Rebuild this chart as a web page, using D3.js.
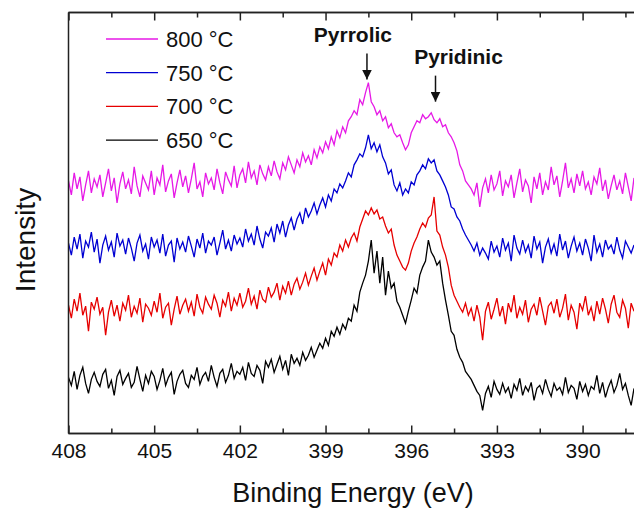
<!DOCTYPE html>
<html>
<head>
<meta charset="utf-8">
<script src="https://cdn.jsdelivr.net/npm/d3@7"></script>
<style>
  body { margin: 0; background: #fff; }
  svg { display: block; font-family: "Liberation Sans", Arial, sans-serif; }
</style>
</head>
<body>
<svg id="chart" width="634" height="514"></svg>
<script>
'use strict';

// binding energy grid: 408.0 eV down to 388.2 eV in 0.1 eV steps
var energyStart = 408.0;
var energyStep = 0.1;

// intensities (a.u.), one value per 0.1 eV
var series650 = [
    56, 48, 62, 44, 58, 66, 50, 40, 54, 61,
    52, 47, 59, 64, 45, 53, 38, 57, 63, 49,
    55, 60, 46, 51, 67, 54, 42, 58, 50, 62,
    57, 44, 53, 65, 48, 56, 61, 39, 52, 59,
    63, 50, 46, 58, 54, 66, 49, 57, 61, 52,
    68, 56, 47, 60, 64, 51, 58, 70, 55, 62,
    59, 66, 53, 71, 60, 57, 68, 63, 50, 72,
    66, 74, 61, 69, 77, 64, 73, 58, 79, 70,
    75, 68, 81, 73, 78, 86, 76, 83, 90, 85,
    95, 88, 102, 97, 106, 99, 109, 104, 115, 112,
    128, 122, 141, 150, 158, 172, 193, 160, 182, 150,
    176, 138, 162, 145, 150, 132, 126, 118, 110, 122,
    133, 145, 140, 158, 166, 172, 193, 181, 176, 168,
    172, 150, 133, 118, 102, 98, 84, 76, 71, 62,
    58, 54, 48, 42, 38, 23, 40, 47, 36, 52,
    44, 39, 50, 41, 46, 35, 49, 43, 55, 38,
    47, 42, 51, 33, 45, 48, 40, 54, 44, 37,
    50, 43, 46, 39, 56, 41, 48, 45, 34, 52,
    42, 49, 38, 47, 44, 58, 40, 51, 36, 46,
    53, 41, 48, 60, 44, 50, 38, 28, 45
];

var series700 = [
    128, 115, 134, 122, 140, 118, 127, 102, 131, 124,
    136, 119, 126, 98, 121, 133, 117, 128, 112, 130,
    123, 138, 116, 127, 120, 135, 111, 129, 125, 118,
    132, 121, 140, 115, 126, 130, 108, 124, 137, 119,
    128, 134, 122, 131, 117, 139, 126, 120, 136, 129,
    124, 138, 130, 116, 133, 127, 141, 122, 135, 128,
    140, 126, 132, 145, 129, 137, 124, 143, 134, 131,
    146, 136, 141, 150, 133, 147, 140, 152, 138, 149,
    155, 144, 151, 160, 148, 157, 165, 153, 162, 170,
    158, 174, 168, 180, 176, 188, 182, 193, 186, 195,
    200, 192, 206, 214, 222, 218, 225, 219, 223, 214,
    216, 207, 200, 204, 188, 178, 172, 166, 163, 170,
    182, 190, 196, 204, 210, 206, 215, 218, 236, 202,
    198, 186, 178, 166, 148, 138, 132, 126, 121, 130,
    118, 125, 112, 128, 116, 93, 122, 131, 114, 124,
    135, 117, 127, 109, 130, 121, 138, 115, 126, 119,
    133, 111, 124, 129, 118, 136, 122, 108, 127, 131,
    120, 134, 116, 125, 139, 113, 128, 121, 104, 130,
    123, 137, 118, 126, 112, 132, 119, 135, 124, 110,
    129, 138, 121, 116, 133, 125, 105, 130, 122
];

var series750 = [
    190, 178, 196, 184, 199, 175, 192, 186, 201, 181,
    194, 170, 188, 197, 183, 191, 176, 200, 187, 193,
    179, 195, 185, 172, 190, 198, 182, 189, 174, 196,
    186, 193, 180, 199, 177, 188, 192, 171, 195, 184,
    191, 181, 197, 187, 176, 194, 185, 200, 180, 192,
    188, 196, 178, 190, 203, 184, 193, 182, 198, 189,
    195, 186, 204, 192, 199, 188, 207, 194, 185, 201,
    197, 205, 191, 209, 200, 212, 196, 208, 215, 203,
    214, 220, 209, 225, 216, 222, 230, 219, 228, 235,
    226, 238, 232, 244, 240, 249, 245, 252, 260, 256,
    268, 273, 279, 276, 285, 298, 284, 290, 281, 288,
    276, 270, 259, 263, 248, 242, 250, 238, 244, 240,
    251, 248, 258, 262, 268, 264, 274, 270, 273, 262,
    258, 252, 246, 238, 226, 224, 216, 212, 204, 198,
    193, 188, 182, 190, 178, 185, 180, 174, 192, 181,
    187, 176, 195, 183, 190, 172, 198, 185, 179, 193,
    181, 188, 175, 197, 184, 191, 170, 186, 194, 180,
    189, 177, 199, 183, 192, 175, 187, 196, 182, 190,
    178, 194, 185, 172, 198, 181, 189, 176, 193, 184,
    188, 179, 196, 183, 175, 192, 186, 180, 188
];

var series800 = [
    252, 238, 260, 244, 256, 232, 248, 262, 240, 254,
    246, 258, 236, 250, 264, 242, 255, 230, 249, 261,
    244, 253, 239, 266, 247, 236, 257, 250, 243, 262,
    238, 255, 248, 268, 241, 252, 259, 235, 250, 263,
    246, 257, 240, 254, 270, 244, 251, 236, 260, 249,
    255, 243, 264, 250, 239, 261, 253, 247, 267, 245,
    258, 264, 250, 271, 255, 262, 248, 268, 259, 253,
    266, 257, 272, 261, 254, 270, 263, 276, 268, 260,
    273, 266, 280, 271, 277, 268, 283, 275, 286, 280,
    291, 284, 296, 288, 302, 295, 306, 300, 312, 316,
    322, 318, 333, 328, 340, 350, 331, 326, 318, 322,
    312, 316, 305, 309, 300, 296, 298, 290, 283, 288,
    300, 306, 312, 310, 318, 314, 316, 320, 313, 310,
    314, 306, 308, 300, 296, 290, 282, 268, 262, 252,
    248, 244, 238, 250, 226, 245, 254, 240, 258, 243,
    249, 262, 237, 252, 246, 258, 235, 250, 264, 241,
    253, 247, 230, 256, 244, 260, 238, 251, 243, 266,
    248, 257, 236, 252, 270, 245, 254, 240, 259, 247,
    262, 244, 251, 238, 256, 249, 265, 242, 253, 234,
    247, 258, 243, 252, 239, 260, 246, 232, 255
];

var seriesNames = ["800 \u00B0C", "750 \u00B0C", "700 \u00B0C", "650 \u00B0C"];
var seriesColors = ["#e619e6", "#0000d2", "#e60000", "#000000"];

var majorTicks = [408, 405, 402, 399, 396, 393, 390];
var minorTicks = [406.5, 403.5, 400.5, 397.5, 394.5, 391.5, 388.5];

var peakLabels = ["Pyrrolic", "Pyridinic"];
var peakEnergies = [397.55, 395.15];
var peakHeights = [384, 362];

var margin = {top: 12.5, left: 68.5, bottom: 433.5};
var svg = d3.select("#chart");

var x = d3.scaleLinear().domain([408, 388.2]).range([margin.left, 634]);
var y = d3.scaleLinear().domain([0, 420]).range([margin.bottom, margin.top]);

function toPoints(values) {
    return values.map(function(v, i) {
        return {e: energyStart - i * energyStep, v: v};
    });
}

var allSeries = [series800, series750, series700, series650].map(function(vals, i) {
    return {name: seriesNames[i], color: seriesColors[i], points: toPoints(vals)};
});

svg.append("clipPath").attr("id", "plotClip")
    .append("rect")
    .attr("x", margin.left).attr("y", margin.top)
    .attr("width", 634 - margin.left).attr("height", margin.bottom - margin.top);

var line = d3.line()
    .x(function(d) { return x(d.e); })
    .y(function(d) { return y(d.v); });

// spectra
svg.append("g").attr("clip-path", "url(#plotClip)")
    .selectAll(".spectrum")
    .data(allSeries)
    .enter().append("path")
    .attr("class", "spectrum")
    .attr("d", function(d) { return line(d.points); })
    .attr("fill", "none")
    .attr("stroke", function(d) { return d.color; })
    .attr("stroke-width", 1.3)
    .attr("stroke-linejoin", "miter");

// axes: major ticks labelled at the bottom, minor ticks and top frame unlabelled
var bottomAxis = d3.axisBottom(x).tickValues(majorTicks).tickSize(-8).tickPadding(10)
    .tickFormat(d3.format("d"));
var bottomMinor = d3.axisBottom(x).tickValues(minorTicks).tickSize(-5).tickFormat("");
var topAxis = d3.axisTop(x).tickValues(majorTicks).tickSize(-8).tickFormat("");
var topMinor = d3.axisTop(x).tickValues(minorTicks).tickSize(-5).tickFormat("");

function styleAxis(g) {
    g.selectAll("path, line").attr("stroke", "#222").attr("stroke-width", 1.5);
    g.select(".domain").attr("d", "M" + margin.left + ",0H634");
    g.selectAll("text").attr("font-size", 21).attr("fill", "#111")
        .attr("font-family", "Liberation Sans, Arial, sans-serif");
}

svg.append("g").attr("transform", "translate(0," + margin.bottom + ")").call(bottomAxis).call(styleAxis);
svg.append("g").attr("transform", "translate(0," + margin.bottom + ")").call(bottomMinor).call(styleAxis);
svg.append("g").attr("transform", "translate(0," + margin.top + ")").call(topAxis).call(styleAxis);
svg.append("g").attr("transform", "translate(0," + margin.top + ")").call(topMinor).call(styleAxis);

// left frame, no ticks
svg.append("line")
    .attr("x1", margin.left).attr("x2", margin.left)
    .attr("y1", margin.top).attr("y2", margin.bottom)
    .attr("stroke", "#222").attr("stroke-width", 1.5);

// axis titles
svg.append("text")
    .attr("x", 353).attr("y", 502)
    .attr("text-anchor", "middle")
    .attr("font-size", 27).attr("fill", "#111")
    .text("Binding Energy (eV)");

svg.append("text")
    .attr("transform", "translate(35,240) rotate(-90)")
    .attr("text-anchor", "middle")
    .attr("font-size", 28).attr("fill", "#111")
    .text("Intensity");

// legend
var legend = svg.append("g").selectAll(".legendItem")
    .data(allSeries)
    .enter().append("g")
    .attr("class", "legendItem")
    .attr("transform", function(d, i) { return "translate(106," + (39 + i * 33.7) + ")"; });

legend.append("line")
    .attr("x1", 0).attr("x2", 52)
    .attr("stroke", function(d) { return d.color; })
    .attr("stroke-width", 1.3);

legend.append("text")
    .attr("x", 60).attr("dy", "0.36em")
    .attr("font-size", 22).attr("fill", "#111")
    .text(function(d) { return d.name; });

// peak annotations
var defs = svg.append("defs");
defs.append("marker")
    .attr("id", "arrowHead")
    .attr("viewBox", "0 0 10 10")
    .attr("refX", 10).attr("refY", 5)
    .attr("markerWidth", 10).attr("markerHeight", 10)
    .attr("markerUnits", "userSpaceOnUse")
    .attr("orient", "auto")
    .append("path").attr("d", "M0,0L10,5L0,10Z").attr("fill", "#111");

var notes = svg.append("g").selectAll(".peakNote")
    .data(peakLabels)
    .enter().append("g")
    .attr("class", "peakNote");

notes.append("text")
    .attr("x", function(d, i) { return x(peakEnergies[i]) - (i === 0 ? 14 : -23); })
    .attr("y", function(d, i) { return y(peakHeights[i]) - 7; })
    .attr("text-anchor", "middle")
    .attr("font-size", 21).attr("font-weight", "bold").attr("fill", "#111")
    .text(function(d) { return d; });

notes.append("line")
    .attr("x1", function(d, i) { return x(peakEnergies[i]); })
    .attr("x2", function(d, i) { return x(peakEnergies[i]); })
    .attr("y1", function(d, i) { return y(peakHeights[i]) + 5; })
    .attr("y2", function(d, i) { return y(peakHeights[i]) + 31; })
    .attr("stroke", "#111").attr("stroke-width", 1.5)
    .attr("marker-end", "url(#arrowHead)");
</script>
</body>
</html>
